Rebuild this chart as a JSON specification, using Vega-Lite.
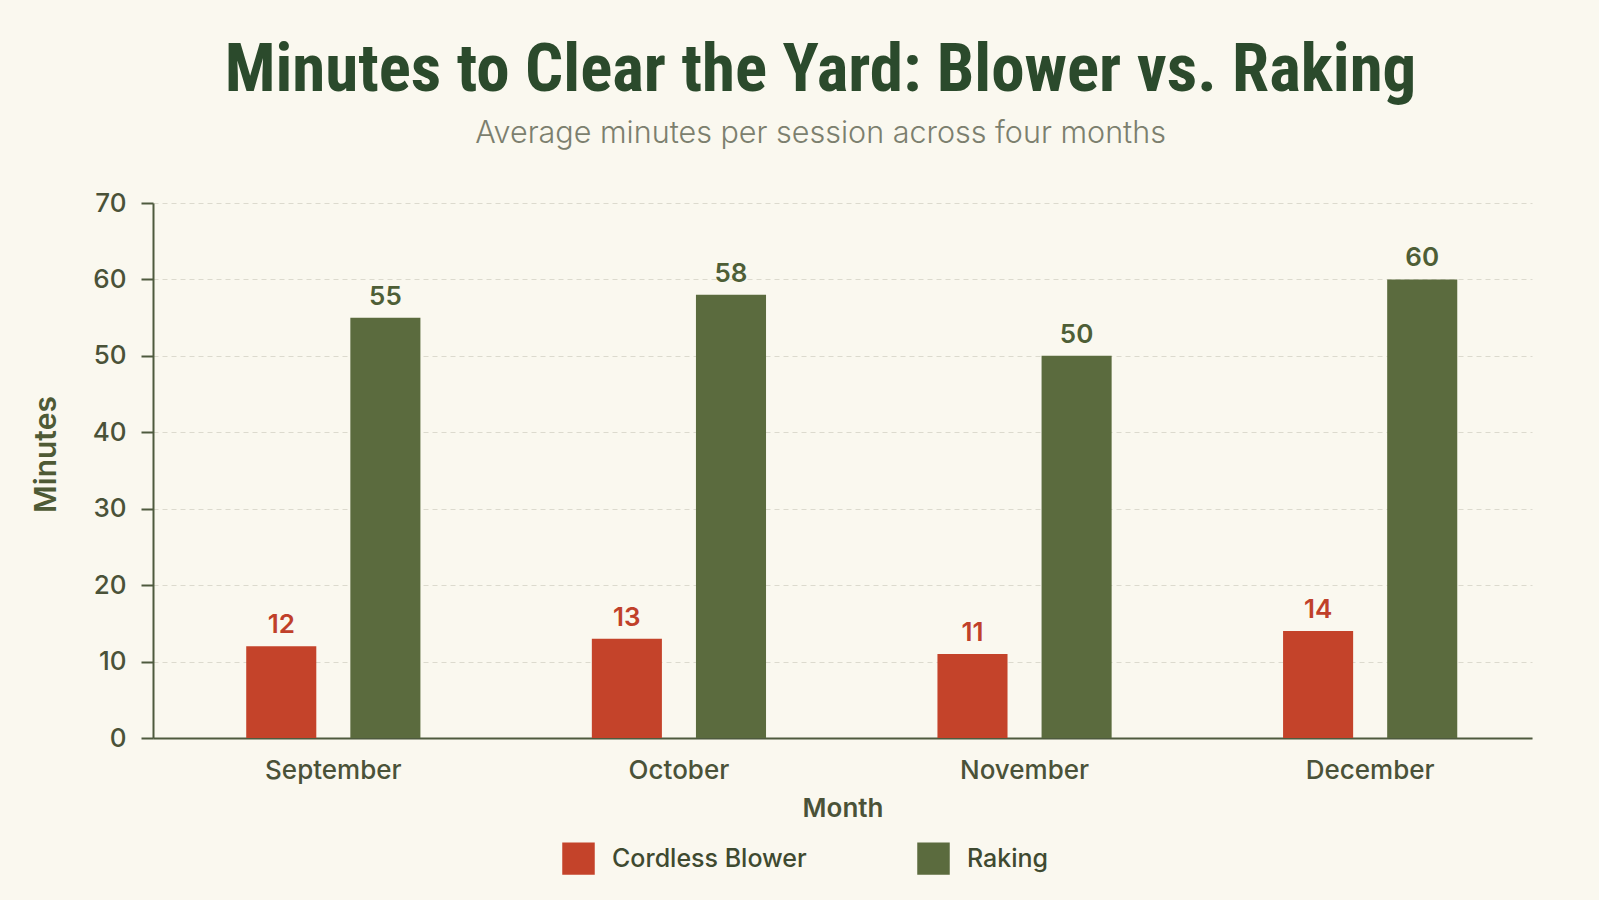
{
  "$schema": "https://vega.github.io/schema/vega-lite/v6.json",
  "width": 1379,
  "height": 535,
  "autosize": {"type": "none"},
  "padding": {"left": 153, "top": 203, "right": 67, "bottom": 162},
  "background": "#FAF8EF",
  "title": {
    "text": "Minutes to Clear the Yard: Blower vs. Raking",
    "subtitle": "Average minutes per session across four months",
    "anchor": "middle",
    "frame": "group",
    "dx": -22,
    "offset": 40,
    "font": "Roboto Condensed",
    "fontSize": 67,
    "fontWeight": "bold",
    "color": "#2B4A2C",
    "subtitleFont": "Inter",
    "subtitleFontSize": 30.5,
    "subtitleFontWeight": 300,
    "subtitleColor": "#7C7F6E",
    "subtitlePadding": 14
  },
  "config": {
    "view": {"stroke": null},
    "font": "Inter"
  },
  "data": {
    "values": [
      {"month": "September", "method": "Cordless Blower", "minutes": 12},
      {"month": "September", "method": "Raking", "minutes": 55},
      {"month": "October", "method": "Cordless Blower", "minutes": 13},
      {"month": "October", "method": "Raking", "minutes": 58},
      {"month": "November", "method": "Cordless Blower", "minutes": 11},
      {"month": "November", "method": "Raking", "minutes": 50},
      {"month": "December", "method": "Cordless Blower", "minutes": 14},
      {"month": "December", "method": "Raking", "minutes": 60}
    ]
  },
  "encoding": {
    "x": {
      "field": "month",
      "type": "nominal",
      "sort": ["September", "October", "November", "December"],
      "scale": {"paddingInner": 0.496, "paddingOuter": 0.243, "align": 0.555},
      "axis": {
        "labelAngle": 0,
        "domainColor": "#4E5A3E",
        "domainWidth": 2,
        "ticks": false,
        "labelFont": "Inter",
        "labelFontSize": 26,
        "labelFontWeight": 500,
        "labelColor": "#4A5238",
        "labelPadding": 19,
        "title": "Month",
        "titleFont": "Inter",
        "titleFontSize": 26,
        "titleFontWeight": 600,
        "titleColor": "#4A5238",
        "titlePadding": 12
      }
    },
    "xOffset": {
      "field": "method",
      "type": "nominal",
      "sort": ["Cordless Blower", "Raking"],
      "scale": {"paddingInner": 0.327, "paddingOuter": 0}
    },
    "y": {
      "field": "minutes",
      "type": "quantitative",
      "scale": {"domain": [0, 70]},
      "axis": {
        "values": [0, 10, 20, 30, 40, 50, 60, 70],
        "domainColor": "#4E5A3E",
        "domainWidth": 2,
        "tickColor": "#4E5A3E",
        "tickWidth": 2,
        "tickSize": 12,
        "labelFont": "Inter",
        "labelFontSize": 26,
        "labelFontWeight": 500,
        "labelColor": "#4A5238",
        "labelPadding": 15,
        "grid": true,
        "gridColor": "#DCDACE",
        "gridDash": [5, 4],
        "gridWidth": 1,
        "title": "Minutes",
        "titleFont": "Inter",
        "titleFontSize": 30,
        "titleFontWeight": 600,
        "titleColor": "#4E5A35",
        "titlePadding": 31,
        "titleY": 251
      }
    }
  },
  "layer": [
    {
      "mark": {"type": "bar"},
      "encoding": {
        "color": {
          "field": "method",
          "type": "nominal",
          "sort": ["Cordless Blower", "Raking"],
          "scale": {"domain": ["Cordless Blower", "Raking"], "range": ["#C4432A", "#5B6B3E"]},
          "legend": {
            "orient": "none",
            "legendX": 409,
            "legendY": 639,
            "direction": "horizontal",
            "title": null,
            "symbolType": "square",
            "symbolSize": 1056,
            "symbolStrokeWidth": 0,
            "symbolOpacity": 1,
            "labelFont": "Inter",
            "labelFontSize": 25,
            "labelFontWeight": 500,
            "labelColor": "#3F4A30",
            "labelOffset": 17,
            "labelLimit": 500,
            "columnPadding": 110,
            "padding": 0
          }
        }
      }
    },
    {
      "mark": {"type": "text", "baseline": "bottom", "dy": -8, "font": "Inter", "fontSize": 26, "fontWeight": 600},
      "encoding": {
        "text": {"field": "minutes", "type": "quantitative"},
        "color": {
          "field": "method",
          "type": "nominal",
          "scale": {"domain": ["Cordless Blower", "Raking"], "range": ["#C0402A", "#4E5E36"]},
          "legend": null
        }
      }
    }
  ],
  "resolve": {"scale": {"color": "independent"}}
}
